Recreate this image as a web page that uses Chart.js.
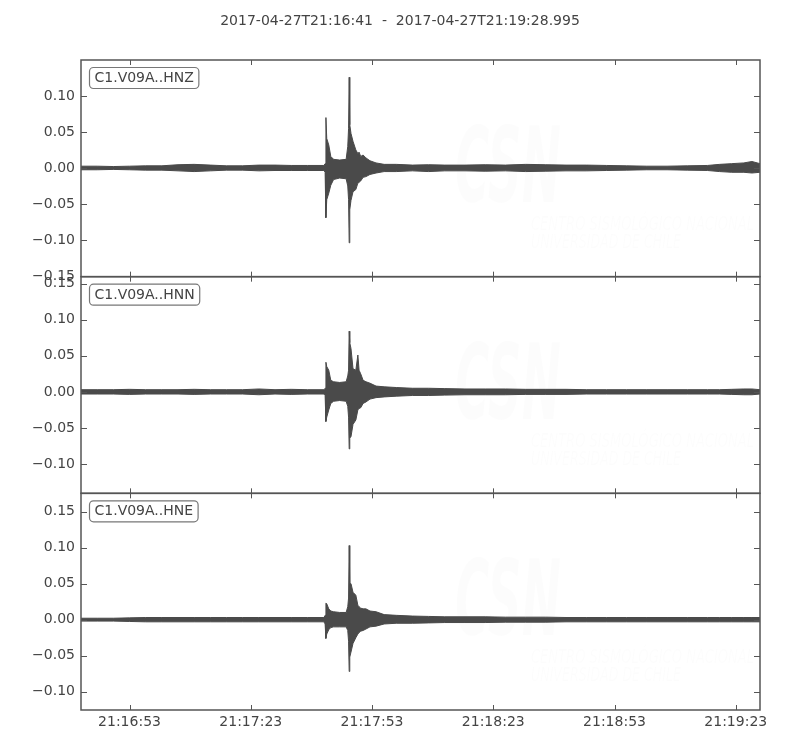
<!DOCTYPE html>
<html>
<head>
<meta charset="utf-8">
<title>C1.V09A waveforms</title>
<script src="https://cdn.jsdelivr.net/npm/chart.js@4.4.1/dist/chart.umd.min.js"></script>
<style>
  html, body { margin: 0; padding: 0; background: #fff; }
  #wrap { width: 800px; height: 750px; }
</style>
</head>
<body>
<div id="wrap"><canvas id="seis" width="800" height="750"></canvas></div>
<script>
// time in seconds after 21:16:41 (start of the trace)
const tSec = [0, 4, 8, 12, 16, 20, 24, 28, 32, 36, 40, 44, 48, 52, 56,
    60.1, 60.4, 60.6, 60.8, 61.3, 61.8, 62.5, 64, 65.6, 66.0, 66.2, 66.35, 66.5, 66.8,
    67.3, 68.0, 68.5, 68.8, 69.2, 69.8, 70.5, 71.5, 73, 75, 78, 82, 86, 90,
    95, 100, 105, 110, 115, 120, 125, 130, 135, 140, 145, 150, 155, 158, 161, 164, 166, 167.99];

// upper / lower envelope of each channel
const hnzHigh = [0.0025, 0.0025, 0.002, 0.0025, 0.003, 0.003, 0.0045, 0.005, 0.004, 0.003, 0.003, 0.004, 0.004, 0.0035, 0.0035,
    0.0035, 0.006, 0.070, 0.041, 0.032, 0.016, 0.012, 0.011, 0.012, 0.030, 0.055, 0.126, 0.060, 0.048,
    0.037, 0.025, 0.020, 0.022, 0.016, 0.018, 0.014, 0.010, 0.007, 0.005, 0.005, 0.004, 0.0045, 0.004,
    0.004, 0.0045, 0.004, 0.005, 0.0045, 0.004, 0.004, 0.0035, 0.003, 0.0025, 0.0025, 0.003, 0.0035, 0.005, 0.006, 0.007, 0.009, 0.006];
const hnzLow = [-0.0025, -0.0025, -0.002, -0.0025, -0.003, -0.003, -0.004, -0.005, -0.004, -0.003, -0.003, -0.004, -0.0035, -0.0035, -0.0035,
    -0.0035, -0.006, -0.069, -0.044, -0.035, -0.024, -0.016, -0.014, -0.015, -0.025, -0.044, -0.104, -0.058, -0.045,
    -0.033, -0.030, -0.021, -0.020, -0.018, -0.013, -0.012, -0.009, -0.007, -0.005, -0.005, -0.004, -0.005, -0.004,
    -0.004, -0.0045, -0.004, -0.005, -0.0045, -0.004, -0.004, -0.0035, -0.003, -0.0025, -0.0025, -0.003, -0.0035, -0.005, -0.006, -0.006, -0.007, -0.006];

const hnnHigh = [0.003, 0.003, 0.003, 0.0035, 0.003, 0.003, 0.003, 0.0035, 0.003, 0.003, 0.003, 0.004, 0.003, 0.0035, 0.003,
    0.003, 0.005, 0.041, 0.035, 0.030, 0.016, 0.014, 0.013, 0.014, 0.022, 0.030, 0.084, 0.068, 0.060,
    0.032, 0.030, 0.051, 0.030, 0.025, 0.016, 0.014, 0.012, 0.008, 0.007, 0.006, 0.005, 0.005, 0.0045,
    0.004, 0.004, 0.004, 0.0035, 0.0035, 0.0035, 0.003, 0.003, 0.003, 0.003, 0.003, 0.003, 0.003, 0.003, 0.0035, 0.004, 0.004, 0.003];
const hnnLow = [-0.003, -0.003, -0.003, -0.0035, -0.003, -0.003, -0.003, -0.0035, -0.003, -0.003, -0.003, -0.004, -0.003, -0.0035, -0.003,
    -0.003, -0.005, -0.041, -0.035, -0.025, -0.016, -0.013, -0.012, -0.013, -0.020, -0.035, -0.079, -0.064, -0.062,
    -0.045, -0.039, -0.025, -0.023, -0.022, -0.016, -0.014, -0.010, -0.008, -0.007, -0.006, -0.005, -0.005, -0.0045,
    -0.004, -0.004, -0.004, -0.0035, -0.0035, -0.0035, -0.003, -0.003, -0.003, -0.003, -0.003, -0.003, -0.003, -0.003, -0.0035, -0.004, -0.004, -0.003];

const hneHigh = [0.002, 0.002, 0.002, 0.0025, 0.003, 0.003, 0.003, 0.003, 0.003, 0.003, 0.003, 0.003, 0.003, 0.003, 0.003,
    0.003, 0.006, 0.023, 0.022, 0.015, 0.012, 0.011, 0.010, 0.010, 0.018, 0.030, 0.103, 0.050, 0.050,
    0.038, 0.034, 0.020, 0.018, 0.016, 0.015, 0.015, 0.012, 0.011, 0.007, 0.006, 0.005, 0.0045, 0.004,
    0.004, 0.004, 0.0035, 0.0035, 0.0035, 0.003, 0.003, 0.003, 0.003, 0.003, 0.003, 0.003, 0.003, 0.003, 0.003, 0.003, 0.003, 0.003];
const hneLow = [-0.002, -0.002, -0.002, -0.0025, -0.003, -0.003, -0.003, -0.003, -0.003, -0.003, -0.003, -0.003, -0.003, -0.003, -0.003,
    -0.003, -0.006, -0.026, -0.020, -0.014, -0.011, -0.010, -0.010, -0.010, -0.015, -0.030, -0.072, -0.052, -0.045,
    -0.033, -0.025, -0.020, -0.018, -0.016, -0.015, -0.013, -0.010, -0.009, -0.006, -0.005, -0.005, -0.0045, -0.004,
    -0.004, -0.004, -0.0035, -0.0035, -0.0035, -0.003, -0.003, -0.003, -0.003, -0.003, -0.003, -0.003, -0.003, -0.003, -0.003, -0.003, -0.003, -0.003];

const channelNames = ["C1.V09A..HNZ", "C1.V09A..HNN", "C1.V09A..HNE"];
const titleText = "2017-04-27T21:16:41  -  2017-04-27T21:19:28.995";

const xMax = 167.995;
const xTickSec = [12, 42, 72, 102, 132, 162];
const xTickText = ["21:16:53", "21:17:23", "21:17:53", "21:18:23", "21:18:53", "21:19:23"];

const yRangeZ = [-0.151, 0.150];
const yRangeN = [-0.1405, 0.1595];
const yRangeE = [-0.1255, 0.1755];
const yTicksZ = [-0.15, -0.10, -0.05, 0, 0.05, 0.10];
const yTicksN = [-0.10, -0.05, 0, 0.05, 0.10, 0.15];
const yTicksE = [-0.10, -0.05, 0, 0.05, 0.10, 0.15];

const waveColor = "#4a4a4a";
const frameColor = "#555555";
const panelAxes = ["yZ", "yN", "yE"];

Chart.defaults.font.family = "'DejaVu Sans', sans-serif";
Chart.defaults.font.size = 14;
Chart.defaults.color = "#444444";

// fills between the upper and lower envelope of one channel
function band(high, low, axisId) {
    const common = {
        yAxisID: axisId,
        borderColor: waveColor,
        backgroundColor: waveColor,
        borderWidth: 1,
        borderJoinStyle: "bevel",
        pointRadius: 0,
        tension: 0
    };
    return [
        Object.assign({ data: tSec.map((t, i) => ({ x: t, y: high[i] })), fill: "+1" }, common),
        Object.assign({ data: tSec.map((t, i) => ({ x: t, y: low[i] })), fill: false }, common)
    ];
}

function yAxis(range, ticks, weight) {
    return {
        type: "linear",
        position: "left",
        stack: "panels",
        stackWeight: 1,
        weight: weight,
        min: range[0],
        max: range[1],
        bounds: "data",
        grid: { display: false, drawTicks: false },
        border: { display: false },
        ticks: {
            padding: 6,
            callback: (v) => v.toFixed(2).replace("-", "\u2212")
        },
        afterBuildTicks: (scale) => {
            scale.ticks = ticks.map(v => ({ value: v }));
        },
        afterFit: (scale) => {
            scale.width = 81;
            scale.paddingTop = 0;
            scale.paddingBottom = 0;
        }
    };
}

// title, frames, inward tick marks, station boxes and the faint watermark
const panelPlugin = {
    id: "panelPlugin",
    beforeDatasetsDraw(chart) {
        const ctx = chart.ctx;
        const area = chart.chartArea;
        ctx.save();
        ctx.fillStyle = "rgba(0, 0, 0, 0.012)";
        ctx.textBaseline = "alphabetic";
        panelAxes.forEach(id => {
            const s = chart.scales[id];
            ctx.font = "italic bold 105px 'DejaVu Sans'";
            ctx.fillText("CSN", area.left + 374, s.top + 142, 106);
            ctx.font = "italic 20px 'DejaVu Sans'";
            ctx.fillText("CENTRO SISMOLÓGICO NACIONAL", area.left + 450, s.top + 170, 223);
            ctx.fillText("UNIVERSIDAD DE CHILE", area.left + 450, s.top + 188, 150);
        });
        ctx.restore();
    },
    afterDraw(chart) {
        const ctx = chart.ctx;
        const area = chart.chartArea;
        const xs = chart.scales.x;
        ctx.save();

        ctx.font = "14px 'DejaVu Sans'";
        ctx.fillStyle = "#444444";
        ctx.textAlign = "center";
        ctx.textBaseline = "middle";
        ctx.fillText(titleText, chart.width / 2, 21);
        ctx.textAlign = "left";

        ctx.strokeStyle = frameColor;
        ctx.lineWidth = 1.5;
        panelAxes.forEach((id, k) => {
            const s = chart.scales[id];
            ctx.strokeRect(area.left, s.top, area.right - area.left, s.bottom - s.top);
            ctx.lineWidth = 1;
            ctx.beginPath();
            s.ticks.forEach(tk => {
                const y = Math.round(s.getPixelForValue(tk.value)) + 0.5;
                if (y < s.top || y > s.bottom) return;
                ctx.moveTo(area.left, y); ctx.lineTo(area.left + 6, y);
                ctx.moveTo(area.right, y); ctx.lineTo(area.right - 6, y);
            });
            xs.ticks.forEach(tk => {
                const x = Math.round(xs.getPixelForValue(tk.value)) + 0.5;
                ctx.moveTo(x, s.top); ctx.lineTo(x, s.top + 5);
                ctx.moveTo(x, s.bottom); ctx.lineTo(x, s.bottom - 5);
            });
            ctx.stroke();
            ctx.lineWidth = 1.5;

            // station label box
            ctx.font = "14px 'DejaVu Sans'";
            const w = ctx.measureText(channelNames[k]).width + 10;
            const bx = area.left + 8.5, by = s.top + 7.5;
            ctx.beginPath();
            ctx.roundRect(bx, by, w, 21, 4);
            ctx.fillStyle = "#ffffff";
            ctx.fill();
            ctx.lineWidth = 1.2;
            ctx.strokeStyle = "#777777";
            ctx.stroke();
            ctx.fillStyle = "#444444";
            ctx.textBaseline = "middle";
            ctx.fillText(channelNames[k], bx + 5, by + 11);
            ctx.strokeStyle = frameColor;
            ctx.lineWidth = 1.5;
        });
        ctx.restore();
    }
};

new Chart(document.getElementById("seis"), {
    type: "line",
    data: {
        datasets: [
            ...band(hnzHigh, hnzLow, "yZ"),
            ...band(hnnHigh, hnnLow, "yN"),
            ...band(hneHigh, hneLow, "yE")
        ]
    },
    options: {
        responsive: false,
        animation: false,
        events: [],
        layout: { padding: { left: 0, right: 40, top: 60, bottom: 0 } },
        scales: {
            x: {
                type: "linear",
                min: 0,
                max: xMax,
                bounds: "data",
                grid: { display: false, drawTicks: false },
                border: { display: false },
                ticks: {
                    padding: 4,
                    maxRotation: 0,
                    callback: (v, i) => xTickText[i]
                },
                afterBuildTicks: (scale) => {
                    scale.ticks = xTickSec.map(v => ({ value: v }));
                },
                afterFit: (scale) => {
                    scale.height = 40;
                    scale.paddingLeft = 0;
                    scale.paddingRight = 0;
                }
            },
            yZ: yAxis(yRangeZ, yTicksZ, 3),
            yN: yAxis(yRangeN, yTicksN, 2),
            yE: yAxis(yRangeE, yTicksE, 1)
        },
        plugins: {
            legend: { display: false },
            tooltip: { enabled: false },
            title: { display: false }
        }
    },
    plugins: [panelPlugin]
});
</script>
</body>
</html>
